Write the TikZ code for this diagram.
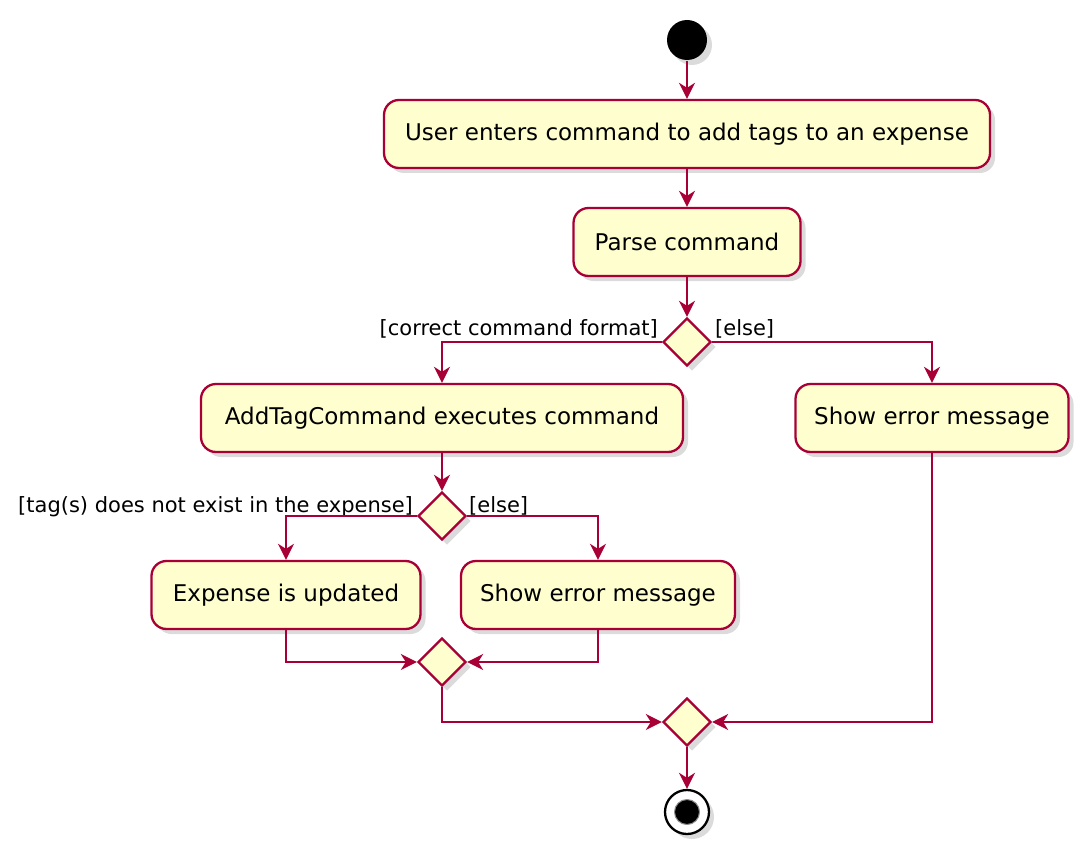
\documentclass[tikz,border=0pt]{standalone}
\usepackage{fontspec}
\setmainfont{DejaVu Sans}
\usetikzlibrary{arrows.meta,shapes.geometric,shadows}
\definecolor{umlred}{HTML}{A80036}
\definecolor{umlfill}{HTML}{FEFECE}

\begin{document}
\begin{tikzpicture}[x=1pt,y=-1pt,line width=2.3pt,
		act/.style={rectangle, draw=umlred, fill=umlfill, rounded corners=15pt, minimum height=68pt, inner sep=0pt,
			font=\fontsize{23}{27}\selectfont, drop shadow={shadow xshift=5pt, shadow yshift=-5pt, fill=black!28}},
		branch/.style={diamond, draw=umlred, fill=umlfill, minimum width=48pt, minimum height=48pt, inner sep=0pt,
			drop shadow={shadow xshift=5pt, shadow yshift=-5pt, fill=black!28}},
		guard/.style={font=\fontsize{21}{24}\selectfont, inner sep=1pt},
		flow/.style={draw=umlred, -{Stealth[length=16pt,width=16pt,inset=5pt]}}]
		\useasboundingbox (0,0) rectangle (1089,853);
		%%%%%%%%%%%%%
		\node[circle, fill=black, minimum size=40pt, inner sep=0pt, drop shadow={shadow xshift=5pt, shadow yshift=-5pt, fill=black!28}] (start) at (687,40) {};
		\node[act, minimum width=606pt] (enter) at (687,134) {User enters command to add tags to an expense};
		\node[act, minimum width=227pt] (parse) at (687,242) {Parse command};
		\node[branch] (valid) at (687,342) {};
		\node[act, minimum width=482pt] (exec) at (442,418) {AddTagCommand executes command};
		\node[act, minimum width=273pt] (err1) at (932,418) {Show error message};
		\node[branch] (exists) at (442,516) {};
		\node[act, minimum width=269pt] (update) at (286,595) {Expense is updated};
		\node[act, minimum width=274pt] (err2) at (598,595) {Show error message};
		\node[branch] (merge1) at (442,662) {};
		\node[branch] (merge2) at (687,722) {};
		\node[circle, draw=black, fill=white, minimum size=44pt, inner sep=0pt, drop shadow={shadow xshift=5pt, shadow yshift=-5pt, fill=black!28}] (stop) at (687,812) {};
		\node[circle, fill=black, draw=black!45, line width=1pt, minimum size=25pt, inner sep=0pt] (stopdot) at (stop) {};
		%%%%%%%%%%%%%
		\node[guard, anchor=base east] (validyes) at (660,335) {[correct command format]};
		\node[guard, anchor=base west] (validno) at (713,335) {[else]};
		\node[guard, anchor=base east] (existsyes) at (415,512) {[tag(s) does not exist in the expense]};
		\node[guard, anchor=base west] (existsno) at (467,512) {[else]};
		%%%%%%%%%%%%%
		\draw[flow] (start) to (enter);
		\draw[flow] (enter) to (parse);
		\draw[flow] (parse) to (valid);
		\draw[flow] (valid.west) -| (exec.north);
		\draw[flow] (valid.east) -| (err1.north);
		\draw[flow] (exec) to (exists);
		\draw[flow] (exists.west) -| (update.north);
		\draw[flow] (exists.east) -| (err2.north);
		\draw[flow] (update.south) |- (merge1.west);
		\draw[flow] (err2.south) |- (merge1.east);
		\draw[flow] (merge1.south) |- (merge2.west);
		\draw[flow] (err1.south) |- (merge2.east);
		\draw[flow] (merge2) to (stop);
	\end{tikzpicture}
\end{document}
